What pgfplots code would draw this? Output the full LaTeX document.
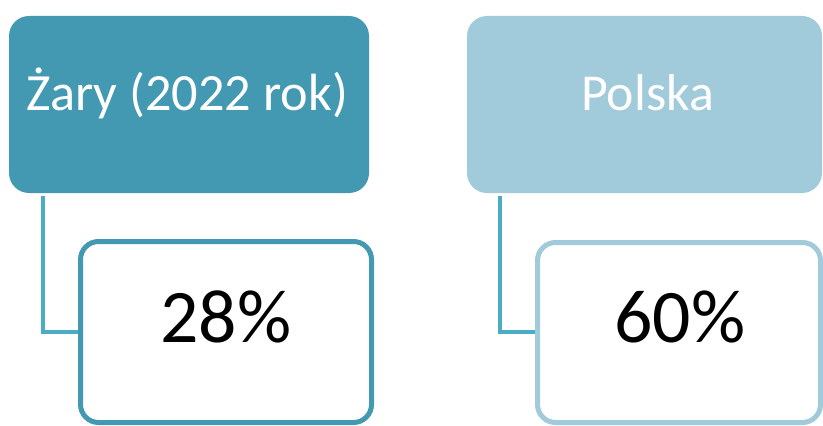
\documentclass[border=0pt]{standalone}
\usepackage{pgfplots}
\pgfplotsset{compat=1.18}
\usepackage{fontspec}
\setmainfont{Carlito}
\definecolor{darkteal}{HTML}{4399B2}
\definecolor{lightteal}{HTML}{A1CADB}
\definecolor{connector}{HTML}{4BACC6}
\begin{document}
\begin{tikzpicture}
\begin{axis}[
  width=823bp, height=426bp, scale only axis,
  xmin=0, xmax=823, ymin=0, ymax=426, y dir=reverse,
  hide axis, clip=false,
  /pgf/number format/assume math mode=true,
]
% top boxes
\draw[fill=darkteal, draw=none, rounded corners=20bp] (axis cs:9,16) rectangle (axis cs:369,193);
\draw[fill=lightteal, draw=none, rounded corners=20bp] (axis cs:467,16) rectangle (axis cs:822,193);
% connectors
\addplot[connector, line width=4.5bp, mark=none] coordinates {(43,196) (43,332) (82,332)};
\addplot[connector, line width=4.5bp, mark=none] coordinates {(500,196) (500,332) (539,332)};
% bottom boxes
\draw[fill=white, draw=darkteal, line width=5bp, rounded corners=18bp] (axis cs:80.5,241.5) rectangle (axis cs:371.5,422.5);
\draw[fill=white, draw=lightteal, line width=5bp, rounded corners=18bp] (axis cs:537.5,242.5) rectangle (axis cs:820.5,422.5);
% titles
\node[anchor=base, text=white, inner sep=0, font=\fontsize{52.5}{57}\selectfont] at (axis cs:187,110) {Żary (2022 rok)};
\node[anchor=base, text=white, inner sep=0, font=\fontsize{52}{57}\selectfont] at (axis cs:647.5,110) {Polska};
% values
\addplot[only marks, mark=none, point meta=explicit,
  nodes near coords={\pgfmathprintnumber{\pgfplotspointmeta}\%},
  nodes near coords align={anchor=base},
  every node near coord/.append style={inner sep=0, text=black, font=\fontsize{76}{82}\selectfont}]
  coordinates {(226,342) [28] (680,342) [60]};
\end{axis}
\pgfresetboundingbox
\useasboundingbox (current axis.south west) rectangle (current axis.north east);
\end{tikzpicture}
\end{document}
